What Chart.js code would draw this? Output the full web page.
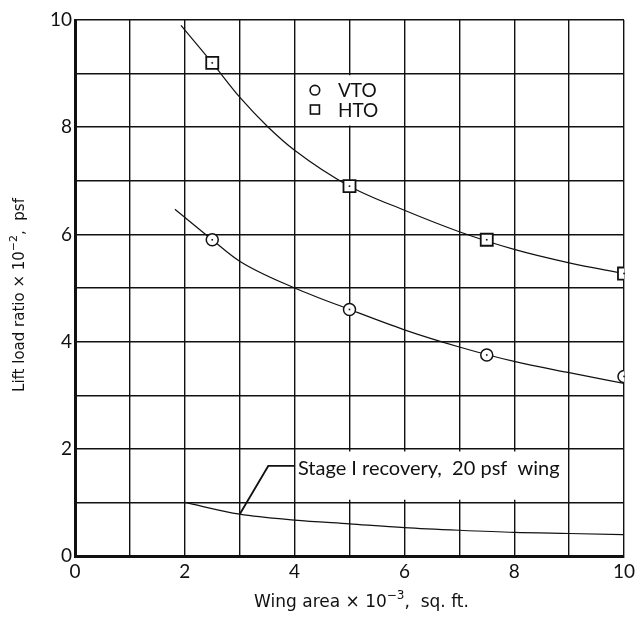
<!DOCTYPE html>
<html>
<head>
<meta charset="utf-8">
<title>Lift load ratio vs wing area</title>
<script src="https://cdn.jsdelivr.net/npm/chart.js@4/dist/chart.umd.min.js"></script>
<style>
  html, body { margin: 0; padding: 0; background: #fff; }
  canvas { display: block; }
</style>
</head>
<body>
<canvas id="liftChart" width="642" height="617"></canvas>
<script>
'use strict';

// test points, wing area (x 10^-3 sq ft)
let markAreas = [2.5, 5, 7.5, 10];
let vtoLoads = [5.9, 4.6, 3.75, 3.35];
let htoLoads = [9.2, 6.9, 5.9, 5.27];

// faired curves
let htoCurveAreas = [1.93, 2.5, 3, 3.52, 4, 5, 6, 7, 8, 9, 10];
let htoCurveLoads = [9.9, 9.2, 8.56, 8.0, 7.57, 6.9, 6.45, 6.05, 5.72, 5.47, 5.27];
let vtoCurveAreas = [1.82, 2.5, 3, 4, 5, 6, 7, 8, 9, 10];
let vtoCurveLoads = [6.47, 5.9, 5.5, 5.0, 4.6, 4.22, 3.9, 3.63, 3.42, 3.22];
let stageCurveAreas = [2, 3, 4, 5, 6, 7, 8, 9, 10];
let stageCurveLoads = [1.0, 0.78, 0.67, 0.6, 0.53, 0.48, 0.44, 0.42, 0.4];

// leader from the stage I curve to its label
let leaderAreas = [3.0, 3.52, 4.0];
let leaderLoads = [0.78, 1.68, 1.68];

let xTicks = [0, 2, 4, 6, 8, 10];
let yTicks = [0, 2, 4, 6, 8, 10];

let fontFamily = 'Lato, "Open Sans", sans-serif';
let titleFamily = '"DejaVu Sans", sans-serif';
let ink = '#111';

function toPoints(xs, ys){
  let pts = [];
  for(let i = 0; i < xs.length; i++){
    pts.push({x: xs[i], y: ys[i]});
  }
  return pts;
}

function curve(xs, ys){
  return {
    type: 'line',
    data: toPoints(xs, ys),
    borderColor: ink,
    borderWidth: 1.2,
    pointRadius: 0,
    fill: false,
    cubicInterpolationMode: 'monotone',
    order: 2
  };
}

// axis title with a raised exponent, centred on (cx, cy)
function drawTitle(ctx, parts, cx, cy, angle, size){
  ctx.save();
  ctx.translate(cx, cy);
  ctx.rotate(angle);
  ctx.fillStyle = ink;
  ctx.textBaseline = 'middle';
  ctx.textAlign = 'left';
  let supSize = Math.round(size * 0.72);
  let total = 0;
  parts.forEach(function(p){
    ctx.font = (p.sup ? supSize : size) + 'px ' + titleFamily;
    p.w = ctx.measureText(p.text).width;
    total += p.w;
  });
  let px = -total / 2;
  parts.forEach(function(p){
    ctx.font = (p.sup ? supSize : size) + 'px ' + titleFamily;
    ctx.fillText(p.text, px, p.sup ? -size * 0.42 : 0);
    px += p.w;
  });
  ctx.restore();
}

// white patches behind the key and the stage I label, then the text
let notesPlugin = {
  id: 'notes',
  beforeDatasetsDraw(chart){
    let ctx = chart.ctx;
    let x = chart.scales.x;
    let y = chart.scales.y;
    ctx.save();
    ctx.fillStyle = '#fff';
    // key box
    ctx.fillRect(x.getPixelForValue(4.03), y.getPixelForValue(8.97),
      x.getPixelForValue(5.97) - x.getPixelForValue(4.03),
      y.getPixelForValue(8.03) - y.getPixelForValue(8.97));
    // label box
    ctx.fillRect(x.getPixelForValue(4.03), y.getPixelForValue(1.95),
      x.getPixelForValue(8.97) - x.getPixelForValue(4.03),
      y.getPixelForValue(1.05) - y.getPixelForValue(1.95));
    ctx.restore();
  },
  afterDatasetsDraw(chart){
    let ctx = chart.ctx;
    let x = chart.scales.x;
    let y = chart.scales.y;
    ctx.save();

    // dots in the middle of the test point symbols
    ctx.fillStyle = ink;
    chart.data.datasets.forEach(function(ds, i){
      if(!ds.centerDot) return;
      chart.getDatasetMeta(i).data.forEach(function(pt){
        ctx.fillRect(pt.x - 0.8, pt.y - 0.8, 1.6, 1.6);
      });
    });

    // key
    let kx = x.getPixelForValue(4.37);
    let ky1 = y.getPixelForValue(8.69);
    let ky2 = y.getPixelForValue(8.33);
    ctx.strokeStyle = ink;
    ctx.lineWidth = 1.6;
    ctx.beginPath();
    ctx.arc(kx, ky1, 4.8, 0, Math.PI * 2);
    ctx.stroke();
    ctx.strokeRect(kx - 4.5, ky2 - 4.5, 9, 9);

    ctx.font = '19px ' + fontFamily;
    ctx.textAlign = 'left';
    ctx.textBaseline = 'middle';
    ctx.fillText('VTO', x.getPixelForValue(4.79), ky1 + 1);
    ctx.fillText('HTO', x.getPixelForValue(4.79), ky2 + 1);

    // stage I label
    ctx.font = '20px ' + fontFamily;
    ctx.fillText('Stage I recovery,  20 psf  wing', x.getPixelForValue(4.06), y.getPixelForValue(1.64));
    ctx.restore();
  },
  afterDraw(chart){
    let ctx = chart.ctx;
    let area = chart.chartArea;
    let midX = (area.left + area.right) / 2;
    let midY = (area.top + area.bottom) / 2;
    drawTitle(ctx, [
      {text: 'Wing area × 10'},
      {text: '−3', sup: true},
      {text: ',  sq. ft.'}
    ], midX + 12, area.bottom + 47, 0, 17);
    drawTitle(ctx, [
      {text: 'Lift load ratio × 10'},
      {text: '−2', sup: true},
      {text: ',  psf'}
    ], 20, midY + 7, -Math.PI / 2, 15);
  }
};

let ctx = document.getElementById('liftChart');

new Chart(ctx, {
  type: 'scatter',
  data: {
    datasets: [
      {
        label: 'VTO',
        data: toPoints(markAreas, vtoLoads),
        pointStyle: 'circle',
        pointRadius: 6,
        borderColor: ink,
        borderWidth: 1.5,
        backgroundColor: '#fff',
        centerDot: true,
        order: 0
      },
      {
        label: 'HTO',
        data: toPoints(markAreas, htoLoads),
        pointStyle: 'rect',
        pointRadius: 8.5,
        borderColor: ink,
        borderWidth: 1.8,
        backgroundColor: '#fff',
        centerDot: true,
        order: 0
      },
      curve(htoCurveAreas, htoCurveLoads),
      curve(vtoCurveAreas, vtoCurveLoads),
      curve(stageCurveAreas, stageCurveLoads),
      Object.assign(curve(leaderAreas, leaderLoads), {cubicInterpolationMode: 'default', tension: 0, borderWidth: 1.8})
    ]
  },
  options: {
    responsive: false,
    animation: false,
    devicePixelRatio: 1,
    layout: {
      padding: {top: 20, right: 18, left: 0, bottom: 0}
    },
    plugins: {
      legend: {display: false},
      tooltip: {enabled: false}
    },
    scales: {
      x: {
        type: 'linear',
        min: 0,
        max: 10,
        afterFit: function(scale){ scale.height = 61; },
        grid: {color: ink, lineWidth: 1.4, drawTicks: false},
        border: {color: ink, width: 3},
        ticks: {
          stepSize: 1,
          padding: 4,
          color: ink,
          font: {family: fontFamily, size: 19},
          maxRotation: 0,
          autoSkip: false,
          callback: function(v){ return xTicks.includes(v) ? String(v) : ''; }
        }
      },
      y: {
        type: 'linear',
        min: 0,
        max: 10,
        afterFit: function(scale){ scale.width = 75; },
        grid: {color: ink, lineWidth: 1.4, drawTicks: false},
        border: {color: ink, width: 3},
        ticks: {
          stepSize: 1,
          padding: 3,
          color: ink,
          font: {family: fontFamily, size: 19},
          autoSkip: false,
          callback: function(v){ return yTicks.includes(v) ? String(v) : ''; }
        }
      }
    }
  },
  plugins: [notesPlugin]
});
</script>
</body>
</html>
